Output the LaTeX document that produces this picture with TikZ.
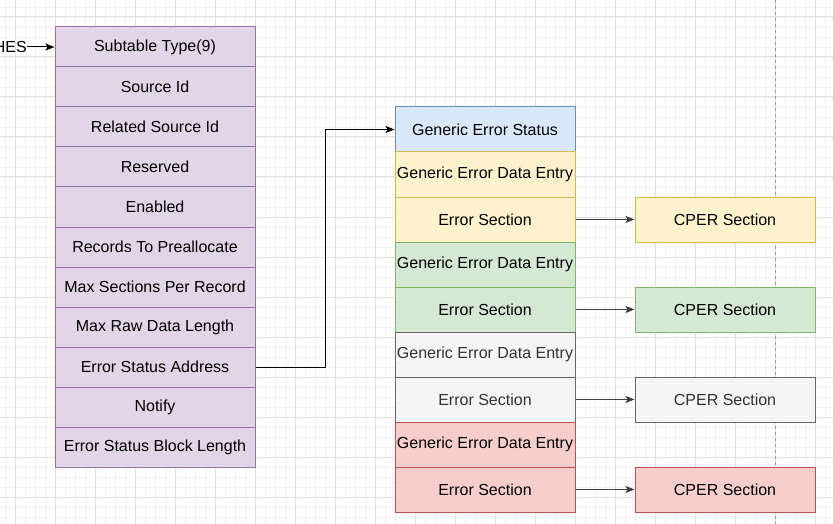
\documentclass[tikz,border=0pt]{standalone}
\usepackage{fontspec}
\setmainfont{Liberation Sans}
\usetikzlibrary{arrows.meta}
\definecolor{purpfill}{HTML}{E1D5E7}\definecolor{purpline}{HTML}{9673A6}
\definecolor{bluefill}{HTML}{DAE8FC}\definecolor{blueline}{HTML}{6C8EBF}
\definecolor{yelfill}{HTML}{FFF2CC}\definecolor{yelline}{HTML}{D6B656}
\definecolor{grnfill}{HTML}{D5E8D4}\definecolor{grnline}{HTML}{82B366}
\definecolor{grayfill}{HTML}{F5F5F5}\definecolor{grayline}{HTML}{666666}
\definecolor{redfill}{HTML}{F8CECC}\definecolor{redline}{HTML}{B85450}
\tikzset{
  field/.style={draw, line width=1pt, inner sep=0pt, minimum width=180, minimum height=45},
  regfield/.style={field, fill=purpfill, draw=purpline, minimum width=200, minimum height=40},
  link/.style={line width=1pt, -{Stealth[length=9pt,width=7pt,inset=2pt]}}
}
\begin{document}
\begin{tikzpicture}[x=1pt,y=-1pt,font=\fontsize{16}{19}\selectfont]
		\clip (0,0) rectangle (833,524);
		\useasboundingbox (0,0) rectangle (833,524);
		% grid
		\foreach \x in {5,15,...,825} \draw[black!5,line width=0.8pt] (\x,0) -- (\x,524);
		\foreach \y in {7,17,...,517} \draw[black!5,line width=0.8pt] (0,\y) -- (833,\y);
		\foreach \x in {15,55,...,815} \draw[black!12,line width=1pt] (\x,0) -- (\x,524);
		\foreach \y in {17,57,...,497} \draw[black!12,line width=1pt] (0,\y) -- (833,\y);
		\draw[black!40,dashed,line width=1pt] (775,0) -- (775,524);
		% HEST table
		\foreach \lbl [count=\i] in {Subtable Type(9),Source Id,Related Source Id,Reserved,Enabled,Records To Preallocate,Max Sections Per Record,Max Raw Data Length,Error Status Address,Notify,Error Status Block Length}
			\node[regfield] (r\i) at (155,{7+40*\i}) {\lbl};
		\node[anchor=east,inner sep=0pt] (hes) at (27,47) {HES};
		\draw[link] (hes.east) -- (r1.west);
		% error status block
		\node[field,fill=bluefill,draw=blueline] (ges) at (485,129.5) {Generic Error Status};
		\node[field,fill=yelfill,draw=yelline] (d1) at (485,174.5) {Generic Error Data Entry};
		\node[field,fill=yelfill,draw=yelline] (s1) at (485,219.5) {Error Section};
		\node[field,fill=grnfill,draw=grnline] (d2) at (485,264.5) {Generic Error Data Entry};
		\node[field,fill=grnfill,draw=grnline] (s2) at (485,309.5) {Error Section};
		\node[field,fill=grayfill,draw=grayline,text=black!80] (d3) at (485,354.5) {Generic Error Data Entry};
		\node[field,fill=grayfill,draw=grayline,text=black!80] (s3) at (485,399.5) {Error Section};
		\node[field,fill=redfill,draw=redline] (d4) at (485,444.5) {Generic Error Data Entry};
		\node[field,fill=redfill,draw=redline] (s4) at (485,489.5) {Error Section};
		% CPER sections
		\node[field,fill=yelfill,draw=yelline] (c1) at (725,219.5) {CPER Section};
		\node[field,fill=grnfill,draw=grnline] (c2) at (725,309.5) {CPER Section};
		\node[field,fill=grayfill,draw=grayline,text=black!80] (c3) at (725,399.5) {CPER Section};
		\node[field,fill=redfill,draw=redline] (c4) at (725,489.5) {CPER Section};
		\draw[link] (r9.east) -- ++(70,0) |- (ges.west);
		\foreach \i in {1,...,4}
			\draw[link,black!75] (s\i.east) -- (c\i.west);
	\end{tikzpicture}
\end{document}
